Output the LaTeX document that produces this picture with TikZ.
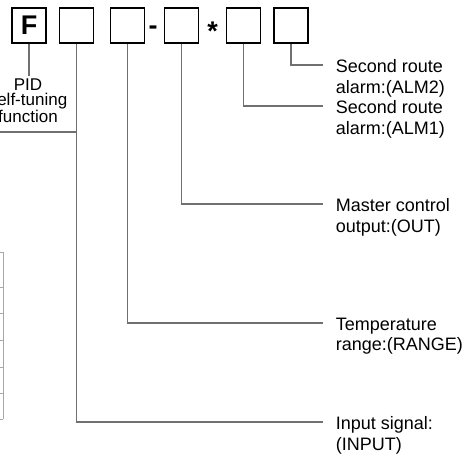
\documentclass[tikz,border=0pt]{standalone}
\usepackage{fontspec}
\setmainfont{Liberation Sans}
\usetikzlibrary{positioning, calc}
\definecolor{cline}{HTML}{707070}
\definecolor{ctick}{HTML}{A8A8A8}
\tikzset{
  every picture/.style={line width=1.5pt},
  digit/.style={draw=black, line width=1.4pt, minimum width=34pt, minimum height=35pt, inner sep=0pt, font=\bfseries\fontsize{27}{27}\selectfont},
  lead/.style={draw=cline, line width=1.5pt},
  note/.style={font=\fontsize{18}{20.5}\selectfont, align=left, anchor=north west, inner sep=0pt},
  sep/.style={font=\bfseries\fontsize{27}{27}\selectfont, inner sep=0pt},
}

\begin{document}
\begin{tikzpicture}[x=1pt, y=-1pt]
  \useasboundingbox (0,0) rectangle (462,454);
  \clip (0,0) rectangle (462,454);
  \node[digit] (b1) at (29,25.5) {F};
  \node[digit] (b2) at (76.5,25.5) {};
  \node[digit] (b3) at (127.5,25.5) {};
  \node[digit] (b4) at (181.5,25.5) {};
  \node[digit] (b5) at (243.5,25.5) {};
  \node[digit] (b6) at (291,25.5) {};
  \node[sep] (dash) at (153,30) {-};
  \node[sep] (star) at (212.5,31) {*};
  \node[note, anchor=north, align=center, font=\fontsize{17}{15.5}\selectfont, inner sep=2pt] (pid) at (28,76) {PID\\self-tuning\\function};
  \coordinate (e6) at (323,65);
  \coordinate (e5) at (323,106);
  \coordinate (e4) at (323,204);
  \coordinate (e3) at (323,323);
  \coordinate (e2) at (323,422);
  \node[note] (l6) at ($(e6)+(12,-6)$) {Second route\\alarm:(ALM2)};
  \node[note] (l5) at ($(e5)+(12,-6)$) {Second route\\alarm:(ALM1)};
  \node[note] (l4) at ($(e4)+(12,-6)$) {Master control\\output:(OUT)};
  \node[note] (l3) at ($(e3)+(12,-6)$) {Temperature\\range:(RANGE)};
  \node[note] (l2) at ($(e2)+(12,-6)$) {Input signal:\\(INPUT)};
  \draw[lead] (b1.south) -- (b1.south |- pid.north);
  \draw[lead] (b6) |- (e6);
  \draw[lead] (b5) |- (e5);
  \draw[lead] (b4) |- (e4);
  \draw[lead] (b3) |- (e3);
  \draw[lead] (b2) |- (e2);
  \coordinate (fl) at (0,132);
  \draw[lead] (fl) -- (fl -| b2);
  \draw[ctick, line width=1pt] (3,252) -- (3,419);
  \foreach \y in {252,287,313,340,367,393,419}
    \draw[ctick, line width=1pt] (0,\y) -- (3,\y);
\end{tikzpicture}
\end{document}
